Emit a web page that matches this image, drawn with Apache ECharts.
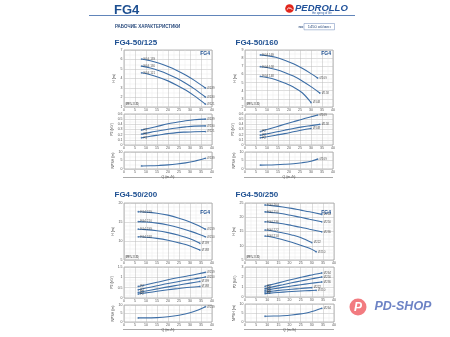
<!DOCTYPE html>
<html><head><meta charset="utf-8">
<script src="https://cdn.jsdelivr.net/npm/echarts@6/dist/echarts.min.js"></script>
<style>html,body{margin:0;padding:0;background:#fff}#c{width:450px;height:337px}</style>
</head><body><div id="c"></div>
<script>
// ---------- DATA ----------
// FG4-50/125
const q125 = [8, 12, 16, 20, 24, 28, 32, 37];
const n125 = ['Ø139', 'Ø130', 'Ø121'];
const h125_1 = [6.05, 5.86, 5.6, 5.26, 4.85, 4.37, 3.8, 3.0];
const h125_2 = [5.3, 5.1, 4.82, 4.46, 4.02, 3.5, 2.91, 2.05];
const h125_3 = [4.6, 4.4, 4.11, 3.75, 3.3, 2.78, 2.17, 1.3];
const p125_1 = [0.29, 0.33, 0.37, 0.41, 0.44, 0.47, 0.49, 0.50];
const p125_2 = [0.21, 0.245, 0.275, 0.305, 0.33, 0.35, 0.365, 0.37];
const p125_3 = [0.14, 0.17, 0.195, 0.22, 0.24, 0.25, 0.257, 0.26];
const npsh125 = [1.8, 1.9, 2.1, 2.4, 2.9, 3.6, 4.6, 6.3];
// FG4-50/160
const q160_1 = [7, 10, 14, 18, 22, 26, 30, 33];
const q160_2 = [7, 10, 14, 18, 22, 26, 30, 34];
const q160_3 = [7, 10, 14, 18, 22, 26, 30];
const n160 = ['Ø169', 'Ø158', 'Ø148'];
const h160_1 = [8.4, 8.3, 8.1, 7.75, 7.3, 6.75, 6.1, 5.56];
const h160_2 = [6.95, 6.85, 6.6, 6.25, 5.8, 5.2, 4.5, 3.72];
const h160_3 = [5.75, 5.62, 5.35, 4.95, 4.45, 3.75, 2.55];
const p160_1 = [0.26, 0.30, 0.35, 0.40, 0.45, 0.50, 0.545, 0.58];
const p160_2 = [0.19, 0.215, 0.25, 0.285, 0.32, 0.35, 0.375, 0.40];
const p160_3 = [0.14, 0.16, 0.19, 0.22, 0.255, 0.29, 0.32];
const npsh160 = [2.3, 2.35, 2.5, 2.75, 3.1, 3.7, 4.6, 5.8];
// FG4-50/200
const q200_a = [6.5, 10, 15, 20, 25, 30, 34, 37];
const q200_b = [6.5, 10, 15, 20, 25, 30, 34.5];
const n200 = ['Ø219', 'Ø210', 'Ø199', 'Ø188'];
const h200_1 = [17.7, 17.6, 17.3, 16.8, 16.0, 15.0, 14.0, 13.1];
const h200_2 = [15.1, 15.0, 14.7, 14.2, 13.5, 12.6, 11.8, 11.1];
const h200_3 = [13.1, 13.0, 12.7, 12.2, 11.5, 10.6, 9.4];
const h200_4 = [11.1, 11.0, 10.7, 10.2, 9.5, 8.7, 7.6];
const p200_1 = [0.56, 0.64, 0.76, 0.88, 0.99, 1.09, 1.17, 1.24];
const p200_2 = [0.40, 0.48, 0.59, 0.70, 0.80, 0.89, 0.96, 1.02];
const p200_3 = [0.27, 0.34, 0.44, 0.54, 0.63, 0.72, 0.80];
const p200_4 = [0.19, 0.25, 0.33, 0.40, 0.46, 0.52, 0.56];
const npsh200 = [2.4, 2.4, 2.6, 3.1, 4.0, 5.4, 7.2, 9.0];
// FG4-50/250
const q250_a = [9, 13, 17, 21, 25, 29, 34.5];
const q250_b = [9, 13, 17, 21, 25, 30];
const q250_c = [9, 13, 17, 21, 25, 29, 32];
const n250 = ['Ø264', 'Ø250', 'Ø236', 'Ø222', 'Ø210'];
const h250_1 = [24.3, 24.0, 23.6, 23.1, 22.5, 21.9, 21.0];
const h250_2 = [21.9, 21.6, 21.2, 20.6, 20.0, 19.3, 18.4];
const h250_3 = [18.4, 18.1, 17.7, 17.1, 16.5, 15.8, 14.9];
const h250_4 = [15.5, 15.1, 14.5, 13.8, 12.9, 11.1];
const h250_5 = [13.4, 12.9, 12.1, 11.2, 10.2, 9.1, 7.9];
const p250_1 = [1.07, 1.3, 1.53, 1.75, 1.96, 2.16, 2.4];
const p250_2 = [0.84, 1.04, 1.23, 1.42, 1.6, 1.77, 2.0];
const p250_3 = [0.67, 0.82, 0.96, 1.1, 1.23, 1.35, 1.5];
const p250_4 = [0.5, 0.6, 0.7, 0.78, 0.85, 0.94];
const p250_5 = [0.34, 0.42, 0.49, 0.55, 0.6, 0.64, 0.67];
const npsh250 = [3.2, 3.3, 3.5, 3.9, 4.5, 5.4, 7.6];
// axis ticks
const qTicks = {min: 0, max: 40, step: 5};

// ---------- BUILD ----------
const FONT = '"Liberation Sans", Arial, sans-serif';
const BLUE = '#1d4f91';
const LINE = '#3d6ea6';
const grids = [], xAxes = [], yAxes = [], series = [];

function plot(l, t, w, h, yMin, yMax, yInt, yName, xName, yMinor) {
  const i = grids.length;
  grids.push({left: l, top: t, width: w, height: h, show: true, borderColor: '#707070', borderWidth: 0.5, backgroundColor: '#fff'});
  xAxes.push({gridIndex: i, type: 'value', min: qTicks.min, max: qTicks.max, interval: qTicks.step,
    axisLine: {show: false}, axisTick: {show: false},
    axisLabel: {fontSize: 3.5, color: '#555', margin: 1.5, fontFamily: FONT},
    splitLine: {lineStyle: {color: '#bdbdbd', width: 0.5}},
    minorTick: {show: false, splitNumber: 2},
    minorSplitLine: {show: true, lineStyle: {color: '#e2e2e2', width: 0.4}},
    name: xName || '', nameLocation: 'middle', nameGap: 6,
    nameTextStyle: {fontSize: 3.5, color: '#444', fontFamily: FONT}});
  yAxes.push({gridIndex: i, type: 'value', min: yMin, max: yMax, interval: yInt,
    axisLine: {show: false}, axisTick: {show: false},
    axisLabel: {fontSize: 3.5, color: '#555', margin: 1.5, fontFamily: FONT},
    splitLine: {lineStyle: {color: '#bdbdbd', width: 0.5}},
    minorTick: {show: false, splitNumber: yMinor || 2},
    minorSplitLine: {show: true, lineStyle: {color: '#e2e2e2', width: 0.4}},
    name: yName, nameLocation: 'middle', nameGap: 8, nameRotate: 90,
    nameTextStyle: {fontSize: 3.5, color: '#444', fontFamily: FONT}});
  return i;
}

function curve(ax, xs, ys, startLbl, endLbl) {
  const d = xs.map((x, k) => [x, ys[k]]);
  series.push({type: 'line', xAxisIndex: ax, yAxisIndex: ax, data: d, smooth: 0.35,
    showSymbol: false, silent: true, lineStyle: {color: LINE, width: 1.1}, z: 3, animation: false});
  const pts = [d[0], d[d.length - 1]];
  const lbls = [startLbl, endLbl];
  series.push({type: 'scatter', xAxisIndex: ax, yAxisIndex: ax, data: pts, symbolSize: 1.8,
    itemStyle: {color: LINE}, z: 4, animation: false, silent: true,
    label: {show: true, fontSize: 3, color: '#333', fontFamily: FONT,
      formatter: p => lbls[p.dataIndex] || '',
      position: 'right', distance: 1}});
}

// FG4-50/125
let a = plot(124, 50, 88, 57, 1, 7, 1, 'H (m)');
curve(a, q125, h125_1, 'FG4 139', n125[0]);
curve(a, q125, h125_2, 'FG4 130', n125[1]);
curve(a, q125, h125_3, 'FG4 121', n125[2]);
a = plot(124, 114, 88, 31, 0, 0.6, 0.1, 'P2 (kW)');
curve(a, q125, p125_1, 'P2', n125[0]);
curve(a, q125, p125_2, 'P2', n125[1]);
curve(a, q125, p125_3, 'P2', n125[2]);
a = plot(124, 152, 88, 17, 0, 10, 5, 'NPSH (m)', 'Q (m³/h)');
curve(a, q125, npsh125, '', n125[0]);

// FG4-50/160
a = plot(245, 50, 88, 57, 2, 9, 1, 'H (m)');
curve(a, q160_1, h160_1, 'FG4 169', n160[0]);
curve(a, q160_2, h160_2, 'FG4 158', n160[1]);
curve(a, q160_3, h160_3, 'FG4 148', n160[2]);
a = plot(245, 114, 88, 31, 0, 0.6, 0.1, 'P2 (kW)');
curve(a, q160_1, p160_1, 'P2', n160[0]);
curve(a, q160_2, p160_2, 'P2', n160[1]);
curve(a, q160_3, p160_3, 'P2', n160[2]);
a = plot(245, 152, 88, 17, 0, 10, 5, 'NPSH (m)', 'Q (m³/h)');
curve(a, q160_1, npsh160, '', n160[0]);

// FG4-50/200
a = plot(124, 203, 88, 57, 5, 20, 5, 'H (m)', '', 5);
curve(a, q200_a, h200_1, 'FG4 219', n200[0]);
curve(a, q200_a, h200_2, 'FG4 210', n200[1]);
curve(a, q200_b, h200_3, 'FG4 199', n200[2]);
curve(a, q200_b, h200_4, 'FG4 188', n200[3]);
a = plot(124, 267, 88, 31, 0, 1.5, 0.5, 'P2 (kW)', '', 4);
curve(a, q200_a, p200_1, 'P2', n200[0]);
curve(a, q200_a, p200_2, 'P2', n200[1]);
curve(a, q200_b, p200_3, 'P2', n200[2]);
curve(a, q200_b, p200_4, 'P2', n200[3]);
a = plot(124, 305, 88, 17, 0, 10, 5, 'NPSH (m)', 'Q (m³/h)');
curve(a, q200_a, npsh200, '', n200[0]);

// FG4-50/250
a = plot(245, 203, 89, 57, 5, 25, 5, 'H (m)', '', 4);
curve(a, q250_a, h250_1, 'FG4 264', n250[0]);
curve(a, q250_a, h250_2, 'FG4 250', n250[1]);
curve(a, q250_a, h250_3, 'FG4 236', n250[2]);
curve(a, q250_b, h250_4, 'FG4 222', n250[3]);
curve(a, q250_c, h250_5, 'FG4 210', n250[4]);
a = plot(245, 267, 89, 30, 0, 3, 1, 'P2 (kW)', '', 4);
curve(a, q250_a, p250_1, 'P2', n250[0]);
curve(a, q250_a, p250_2, 'P2', n250[1]);
curve(a, q250_a, p250_3, 'P2', n250[2]);
curve(a, q250_b, p250_4, 'P2', n250[3]);
curve(a, q250_c, p250_5, 'P2', n250[4]);
a = plot(245, 304, 89, 18, 0, 10, 5, 'NPSH (m)', 'Q (m³/h)');
curve(a, q250_a, npsh250, '', n250[0]);

// ---------- GRAPHICS ----------
function txt(x, y, s, size, opts) {
  return Object.assign({type: 'text', x: x, y: y, z: 10, silent: true,
    style: Object.assign({text: s, fontSize: size, fontFamily: FONT, fill: BLUE, fontWeight: 'bold',
      verticalAlign: 'middle'}, (opts || {}))});
}
function hline(x1, x2, y, color, w) {
  return {type: 'line', z: 10, silent: true, shape: {x1: x1, y1: y, x2: x2, y2: y}, style: {stroke: color, lineWidth: w}};
}
const g = [];
g.push(txt(114, 10, 'FG4', 13));
g.push(hline(89, 355, 15.5, '#3966a8', 0.8));
g.push({type: 'circle', z: 10, shape: {cx: 289.5, cy: 8.5, r: 4.3}, style: {fill: '#e1251b'}});
g.push({type: 'arc', z: 11, shape: {cx: 289.5, cy: 11, r: 3, startAngle: Math.PI * 1.15, endAngle: Math.PI * 1.85}, style: {stroke: '#fff', lineWidth: 1, fill: null}});
g.push(txt(295, 8.5, 'PEDROLLO', 9.5, {fontStyle: 'italic', fill: '#21529a'}));
g.push(txt(312, 13, 'the spring of life', 2.8, {fontWeight: 'normal', fill: '#21529a'}));
g.push(txt(115, 26.6, 'РАБОЧИЕ ХАРАКТЕРИСТИКИ', 4.5, {fill: '#2b4c7e'}));
g.push(txt(298.5, 26.8, 'n=', 4, {fill: '#2b4c7e'}));
g.push({type: 'rect', z: 10, shape: {x: 304, y: 23.5, width: 30.5, height: 6.3}, style: {fill: '#fff', stroke: '#6a86b8', lineWidth: 0.5}});
g.push(txt(319.2, 26.7, '1450 об/мин', 4, {fill: '#2b4c7e', align: 'center', fontWeight: 'normal'}));
g.push(txt(114.5, 42.3, 'FG4-50/125', 8));
g.push(txt(235.5, 42.3, 'FG4-50/160', 8));
g.push(txt(114.5, 194.6, 'FG4-50/200', 8));
g.push(txt(235.5, 194.6, 'FG4-50/250', 8));
[[210, 54], [331, 54], [210, 213], [331, 213]].forEach(p => g.push(txt(p[0], p[1], 'FG4', 5, {align: 'right'})));
[[125.5, 104.5], [246.5, 104.5], [125.5, 257.5], [246.5, 257.5]].forEach(p => {
  g.push({type: 'rect', z: 10, shape: {x: p[0], y: p[1] - 1.8, width: 13, height: 3.6}, style: {fill: '#fff', stroke: '#888', lineWidth: 0.3}});
  g.push(txt(p[0] + 6.5, p[1], 'MEI ≥ 0.40', 2.6, {align: 'center', fill: '#333', fontWeight: 'normal'}));
});
g.push(hline(123, 212, 177.5, '#555', 0.5));
g.push(hline(244, 333, 177.5, '#555', 0.5));
g.push(hline(123, 212, 329.5, '#555', 0.5));
g.push(hline(244, 334, 329.5, '#555', 0.5));
// PD-SHOP logo
g.push({type: 'circle', z: 10, shape: {cx: 358, cy: 307, r: 8.5}, style: {fill: '#f27b80'}});
g.push(txt(358, 307.5, 'P', 12, {align: 'center', fill: '#fff', fontStyle: 'italic'}));
g.push(txt(374.5, 307, 'PD-SHOP', 12.5, {fontStyle: 'italic', fill: '#6d83c5'}));

const chart = echarts.init(document.getElementById('c'), null, {renderer: 'canvas'});
chart.setOption({
  animation: false,
  backgroundColor: '#fff',
  grid: grids, xAxis: xAxes, yAxis: yAxes, series: series, graphic: g
});
</script></body></html>
